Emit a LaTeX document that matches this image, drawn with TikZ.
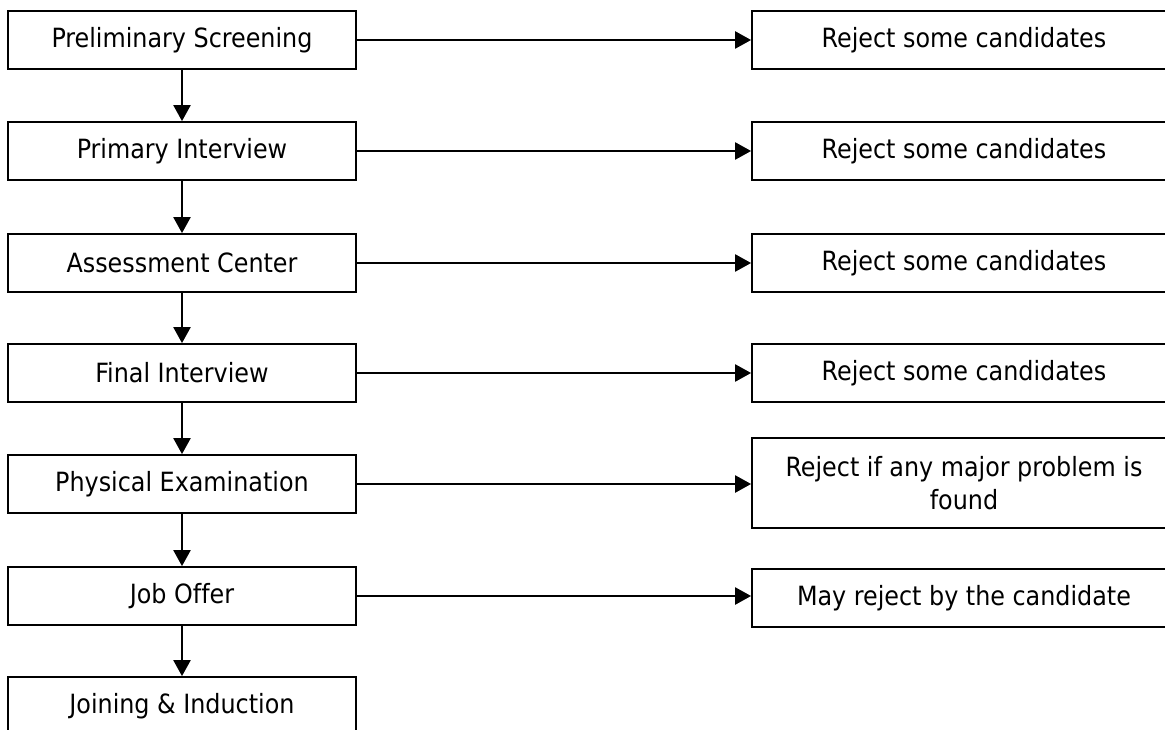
\documentclass[tikz,border=0pt]{standalone}
\usepackage{fontspec}
\setmainfont{DejaVu Sans Condensed}[Ligatures=CommonOff]
\usetikzlibrary{arrows.meta}

\begin{document}
\begin{tikzpicture}[x=1pt,y=-1pt,
stage/.style = {draw, line width=1.8pt, minimum width=348pt, minimum height=58pt,
    inner sep=0pt, align=center, font=\fontsize{26.5}{33}\selectfont},
reject/.style = {stage, minimum width=424pt},
link/.style = {-{Triangle[length=16pt,width=17pt]}, line width=2.4pt}]
\useasboundingbox (0,0) rectangle (1165,730);
\node[stage] (prelim)   at (182,40)  {Preliminary Screening};
\node[stage] (primary)  at (182,151) {Primary Interview};
\node[stage] (assess)   at (182,263) {Assessment Center};
\node[stage] (final)    at (182,373) {Final Interview};
\node[stage] (physical) at (182,484) {Physical Examination};
\node[stage] (offer)    at (182,596) {Job Offer};
\node[stage] (joining)  at (182,706) {Joining \& Induction};

\node[reject] (rprelim)   at (964,40)  {Reject some candidates};
\node[reject] (rprimary)  at (964,151) {Reject some candidates};
\node[reject] (rassess)   at (964,263) {Reject some candidates};
\node[reject] (rfinal)    at (964,373) {Reject some candidates};
\node[reject, minimum height=90pt] (rphysical) at (964,483)
    {Reject if any major problem is\\found};
\node[reject] (roffer)    at (964,598) {May reject by the candidate};

\draw[link] (prelim) -- (primary);
\draw[link] (primary) -- (assess);
\draw[link] (assess) -- (final);
\draw[link] (final) -- (physical);
\draw[link] (physical) -- (offer);
\draw[link] (offer) -- (joining);

\draw[link] (prelim.east) -- (prelim.east -| rprelim.west);
\draw[link] (primary.east) -- (primary.east -| rprimary.west);
\draw[link] (assess.east) -- (assess.east -| rassess.west);
\draw[link] (final.east) -- (final.east -| rfinal.west);
\draw[link] (physical.east) -- (physical.east -| rphysical.west);
\draw[link] (offer.east) -- (offer.east -| roffer.west);
\end{tikzpicture}
\end{document}
